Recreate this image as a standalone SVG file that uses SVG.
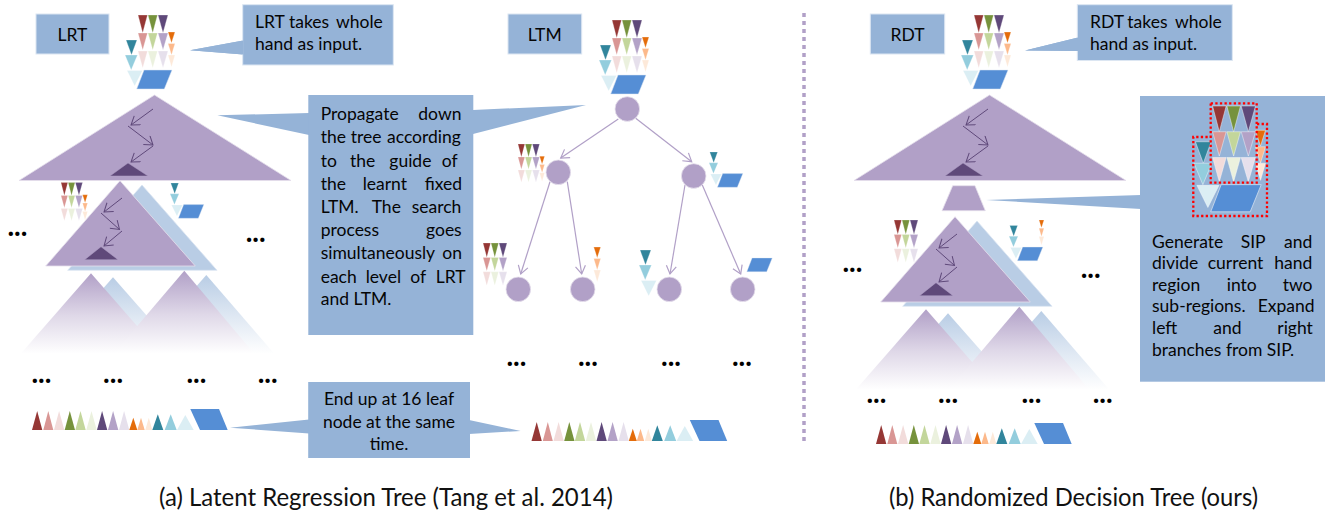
<svg xmlns="http://www.w3.org/2000/svg" width="1325" height="511" viewBox="0 0 1325 511">
<style>
text{font-family:Lato,"Liberation Sans",sans-serif;font-size:17.5px;fill:#050505}
.box{fill:#95b3d7;stroke:#dce6f2;stroke-width:1}
.c{fill:#95b3d7}
.tri{fill:#b1a0c7;stroke:#e6e0ec;stroke-width:.8}
.blu{fill:#b9cde5;stroke:#dce6f2;stroke-width:.8}
.dk{fill:#5f497a;stroke:#b1a0c7;stroke-width:.5}
.arr{fill:none;stroke:#5f497a;stroke-width:1;marker-end:url(#a1)}
.edge{fill:none;stroke:#b1a0c7;stroke-width:1.2;marker-end:url(#a2)}
.node{fill:#b1a0c7;stroke:#e6e0ec;stroke-width:.8}
.dots{font-family:Lato,"Liberation Sans",sans-serif;font-weight:bold;font-size:28px;fill:#000}
.cap{font-size:24.5px;fill:#111}
.ctr{text-anchor:middle}
.w{stroke:#fff;stroke-width:.3}
.red{fill:none;stroke:#f00;stroke-width:2.3;stroke-dasharray:2.3 2.3}
</style>
<defs>
<marker id="a1" markerUnits="userSpaceOnUse" markerWidth="14" markerHeight="14" refX="9" refY="6" orient="auto"><path d="M1 0.5L9 6L1 11.5" fill="none" stroke="#5f497a" stroke-width="1"/></marker>
<marker id="a2" markerUnits="userSpaceOnUse" markerWidth="14" markerHeight="14" refX="9" refY="6" orient="auto"><path d="M1 1L9 6L1 11" fill="none" stroke="#b1a0c7" stroke-width="1.2"/></marker>
<linearGradient id="gp" x1="0" y1="0" x2="0" y2="1"><stop offset="0" stop-color="#b1a0c7"/><stop offset=".5" stop-color="#dfd8e8"/><stop offset=".95" stop-color="#fff"/></linearGradient>
<linearGradient id="gb" x1="0" y1="0" x2="0" y2="1"><stop offset="0" stop-color="#b9cde5"/><stop offset=".5" stop-color="#dfe8f3"/><stop offset=".95" stop-color="#fff"/></linearGradient>
<g id="f" class="w">
<path fill="#953735" d="M13 0H22.5L17.7 18Z"/><path fill="#76923c" d="M23 0H32.5L27.7 18Z"/><path fill="#5f497a" d="M33 0H43L38 18Z"/>
<path fill="#d99694" d="M13 18H22.5L17.7 35Z"/><path fill="#c3d69b" d="M23 18H32.5L27.7 35Z"/><path fill="#b3a2c7" d="M33 18H43L38 35Z"/>
<path fill="#f2dcdb" d="M13 36H22.5L17.7 53Z"/><path fill="#ebf1de" d="M23 36H32.5L27.7 53Z"/><path fill="#e6e0ec" d="M33 36H43L38 53Z"/>
</g>
<g id="o" class="w">
<path fill="#e46c0a" d="M43 17H50L46.5 28Z"/><path fill="#fcb98b" d="M43 28.5H50L46.5 40Z"/><path fill="#fde9d9" d="M43 40H50L46.5 52Z"/>
</g>
<g id="t" class="w">
<path fill="#31859c" d="M1 25H12L6.5 40Z"/><path fill="#93cddd" d="M0 40H12.5L6.2 55Z"/><path fill="#dbeef4" d="M2 55.5H17.5L9.7 71Z"/>
</g>
<path id="p" fill="#558ed5" stroke="#dce6f2" stroke-width=".5" d="M19 55H47L39.3 74H11.7Z"/>
<g id="h"><use href="#f"/><use href="#o"/><use href="#t"/><use href="#p"/></g>
<g id="leaf">
<path fill="#953735" d="M32 430L37.2 411L42.3 430Z"/><path fill="#d99694" d="M43.3 430L48.3 411L53.3 430Z"/><path fill="#f2dcdb" d="M54 430L59.1 411L64.3 430Z"/>
<path fill="#76923c" d="M64.7 430L69.8 411L75 430Z"/><path fill="#c3d69b" d="M75.3 430L80.5 411L85.7 430Z"/><path fill="#ebf1de" d="M86.3 430L91.5 411L96.7 430Z"/>
<path fill="#5f497a" d="M97 430L102.1 411L107.3 430Z"/><path fill="#b3a2c7" d="M108 430L113.1 411L118.3 430Z"/><path fill="#e6e0ec" d="M119 430L124.1 411L129.3 430Z"/>
<path fill="#e46c0a" d="M129.3 430L133.3 417.7L137.3 430Z"/><path fill="#fcb98b" d="M137.3 430L141 417.7L144.7 430Z"/><path fill="#fde9d9" d="M145.3 430L148.8 417.7L152.3 430Z"/>
<path fill="#31859c" d="M152.3 430L157.8 414.3L163.3 430Z"/><path fill="#93cddd" d="M164.7 430L170.7 414.3L176.7 430Z"/><path fill="#dbeef4" d="M177 430L185.3 415L193.7 430Z"/>
<path fill="#558ed5" d="M190.3 409H219L227.7 430H200Z"/>
</g>
<g id="bigtri">
<polygon class="tri" points="154.5,95 19,180.5 291,180.5"/>
<polygon class="dk" points="128,163 110,176 148,176"/>
<path class="arr" d="M153 109L131 125"/><path class="arr" d="M128 126L153 145"/><path class="arr" d="M153 146L131 162"/>
</g>
<g id="lower">
<polygon class="blu" points="142,185 67.7,270.3 217,270.3"/>
<polygon class="tri" points="120,180.7 45.7,266 195.3,266"/>
<polygon class="dk" points="101,246.7 84.7,259.7 118,259.7"/>
<path class="arr" d="M122 198L104 212"/><path class="arr" d="M101 213L119.5 229.5"/><path class="arr" d="M122 231L104 246"/>
<polygon fill="url(#gb)" points="113,277.3 42,358 184,358"/>
<polygon fill="url(#gp)" points="91,273.3 17,358 165,358"/>
<polygon fill="url(#gb)" points="206.3,275 134,358 278,358"/>
<polygon fill="url(#gp)" points="184.3,270.7 110,358 258,358"/>
</g>
<g id="dotsMid"><text class="dots" x="7.4" y="235.5">...</text><text class="dots" x="245.7" y="242.3">...</text></g>
<g id="dotsLow"><text class="dots" x="31.4" y="383">...</text><text class="dots" x="103.1" y="383">...</text><text class="dots" x="186.4" y="383">...</text><text class="dots" x="257.7" y="383">...</text></g>
</defs>

<g id="separator"><path d="M804 13V442" fill="none" stroke="#b1a0c7" stroke-width="3.5" stroke-dasharray="4 4"/></g>

<g id="LRT-tree">
<use href="#lower"/>
<use href="#bigtri"/>
<use href="#h" transform="translate(125 15)"/>
<use href="#f" transform="translate(51.6 182.6) scale(.72)"/><use href="#o" transform="translate(51.6 182.6) scale(.72)"/>
<use href="#t" transform="translate(170 165) scale(.72)"/><use href="#p" transform="translate(170 165) scale(.72)"/>
<use href="#dotsMid"/>
<use href="#dotsLow"/>
<use href="#leaf"/>
</g>

<g id="RDT-tree">
<use href="#lower" transform="translate(835 36)"/>
<use href="#bigtri" transform="translate(835 0)"/>
<polygon class="tri" points="952.7,185.7 975,185.7 985.3,210.7 942,210.7"/>
<use href="#h" transform="translate(961 15)"/>
<use href="#f" transform="translate(883.6 220) scale(.8)"/>
<use href="#t" transform="translate(1009 207.5) scale(.72)"/><use href="#p" transform="translate(1009 207.5) scale(.72)"/><use href="#o" transform="translate(1008 207.7) scale(.72)"/>
<use href="#dotsMid" transform="translate(835 36)"/>
<use href="#dotsLow" transform="translate(835 20)"/>
<use href="#leaf" transform="translate(844 14)"/>
</g>

<g id="connectors">
<path class="edge" d="M618.3 119L560.7 158"/>
<path class="edge" d="M635.7 118.3L691.7 161.7"/>
<path class="edge" d="M550 181.7L520.7 274"/>
<path class="edge" d="M567.3 181.7L581.7 274"/>
<path class="edge" d="M685 185L670 274"/>
<path class="edge" d="M702.3 185L740.7 274"/>
</g>
<g id="LTM-tree">
<g id="n0"><circle class="node" cx="627.3" cy="109" r="12.3"/></g>
<g id="n1"><circle class="node" cx="558.3" cy="172.3" r="12.3"/></g>
<g id="n2"><circle class="node" cx="693.7" cy="176" r="12.3"/></g>
<g id="n3"><circle class="node" cx="518.3" cy="289.3" r="12.3"/></g>
<g id="n4"><circle class="node" cx="582.7" cy="289.3" r="12.3"/></g>
<g id="n5"><circle class="node" cx="669.3" cy="289.3" r="12.3"/></g>
<g id="n6"><circle class="node" cx="742.7" cy="289.3" r="12.3"/></g>
<use href="#h" transform="translate(599 20)"/>
<use href="#f" transform="translate(508.6 144) scale(.72)"/><use href="#o" transform="translate(508.6 144) scale(.72)"/>
<use href="#t" transform="translate(709 134) scale(.72)"/><use href="#p" transform="translate(709 134) scale(.72)"/>
<use href="#f" transform="translate(472.6 243) scale(.8)"/>
<use href="#o" transform="translate(550.7 230)"/>
<use href="#t" transform="translate(639 225)"/>
<use href="#p" transform="translate(738.4 218.4) scale(.72)"/>
<text class="dots" x="506.4" y="366">...</text><text class="dots" x="577.9" y="366">...</text><text class="dots" x="661" y="366">...</text><text class="dots" x="731.9" y="366">...</text>
<use href="#leaf" transform="translate(499.5 11)"/>
</g>

<g id="label-LRT"><rect class="box" x="36" y="14" width="73" height="40"/><text class="ctr" x="72.5" y="41">LRT</text></g>
<g id="label-LTM"><rect class="box" x="508" y="14" width="73.7" height="40"/><text class="ctr" x="544.7" y="41">LTM</text></g>
<g id="label-RDT"><rect class="box" x="870.3" y="14" width="74.4" height="40"/><text class="ctr" x="907.5" y="41">RDT</text></g>

<g id="callout-LRT">
<polygon class="c" points="190,50.3 243,40.5 243,54.5"/>
<rect class="box" x="242.7" y="4.7" width="150.6" height="60.3"/>
<polygon class="c" points="190,50.3 243.5,40.5 243.5,54.5"/>
<text y="28.3"><tspan x="255">LRT</tspan> <tspan x="289">takes</tspan> <tspan x="336">whole</tspan></text>
<text x="255" y="50">hand as input.</text>
</g>
<g id="callout-propagate">
<polygon class="c" points="217.3,115.3 309,113 309,135"/>
<polygon class="c" points="586,105 473,110 473,134"/>
<rect class="c" x="308.3" y="95" width="165" height="240"/>
<text y="120"><tspan x="320.7">Propagate</tspan> <tspan x="418.3">down</tspan></text>
<text y="143.3"><tspan x="320.7">the</tspan> <tspan x="350.7">tree</tspan> <tspan x="387">according</tspan></text>
<text y="166.7"><tspan x="320.7">to</tspan> <tspan x="350">the</tspan> <tspan x="389.3">guide</tspan> <tspan x="441.7">of</tspan></text>
<text y="190"><tspan x="320.7">the</tspan> <tspan x="362.7">learnt</tspan> <tspan x="424.7">fixed</tspan></text>
<text y="212.7"><tspan x="320.7">LTM.</tspan> <tspan x="371.7">The</tspan> <tspan x="411.7">search</tspan></text>
<text y="236"><tspan x="320.7">process</tspan> <tspan x="426">goes</tspan></text>
<text y="259.3"><tspan x="320.7">simultaneously</tspan> <tspan x="442.3">on</tspan></text>
<text y="282.7"><tspan x="320.7">each</tspan> <tspan x="365.7">level</tspan> <tspan x="410.3">of</tspan> <tspan x="435.7">LRT</tspan></text>
<text x="320.7" y="305.3">and LTM.</text>
</g>
<g id="callout-end">
<polygon class="c" points="230,427.7 309,419.5 309,433.5"/>
<polygon class="c" points="520.7,431 469,420 469,434"/>
<rect class="c" x="308.2" y="382" width="161.8" height="76"/>
<text class="ctr" x="389" y="404.5">End up at 16 leaf</text>
<text class="ctr" x="389" y="427.5">node at the same</text>
<text class="ctr" x="389" y="450">time.</text>
</g>
<g id="callout-RDT">
<polygon class="c" points="1025,50.5 1078,37.5 1078,51"/>
<rect class="box" x="1077.3" y="4.7" width="155" height="55.8"/>
<polygon class="c" points="1025,50.5 1078,37.5 1078,51"/>
<text y="28"><tspan x="1090">RDT</tspan> <tspan x="1127.3">takes</tspan> <tspan x="1175">whole</tspan></text>
<text x="1090" y="50">hand as input.</text>
</g>
<g id="callout-SIP">
<polygon class="c" points="986,200 1141,195 1141,209"/>
<rect class="c" x="1140" y="96" width="185" height="285.7"/>
<use href="#h" transform="translate(1194 106) scale(1.43)"/>
<rect class="red" x="1210.7" y="103.3" width="46" height="79.4"/>
<path class="red" d="M1257 124H1267V216H1193.3V137H1210"/>
<text y="247.7"><tspan x="1152">Generate</tspan> <tspan x="1240.7">SIP</tspan> <tspan x="1284">and</tspan></text>
<text y="269.3"><tspan x="1152">divide</tspan> <tspan x="1207.7">current</tspan> <tspan x="1274.3">hand</tspan></text>
<text y="291"><tspan x="1152">region</tspan> <tspan x="1226.7">into</tspan> <tspan x="1282.7">two</tspan></text>
<text y="312.3"><tspan x="1152">sub-regions.</tspan> <tspan x="1257.7">Expand</tspan></text>
<text y="334"><tspan x="1152">left</tspan> <tspan x="1213.3">and</tspan> <tspan x="1277.3">right</tspan></text>
<text x="1152" y="355.7">branches from SIP.</text>
</g>
<g id="captions">
<text class="cap" x="159" y="505.5" textLength="454" lengthAdjust="spacingAndGlyphs">(a) Latent Regression Tree (Tang et al. 2014)</text>
<text class="cap" x="889" y="505.5" textLength="369" lengthAdjust="spacingAndGlyphs">(b) Randomized Decision Tree (ours)</text>
</g>
</svg>
